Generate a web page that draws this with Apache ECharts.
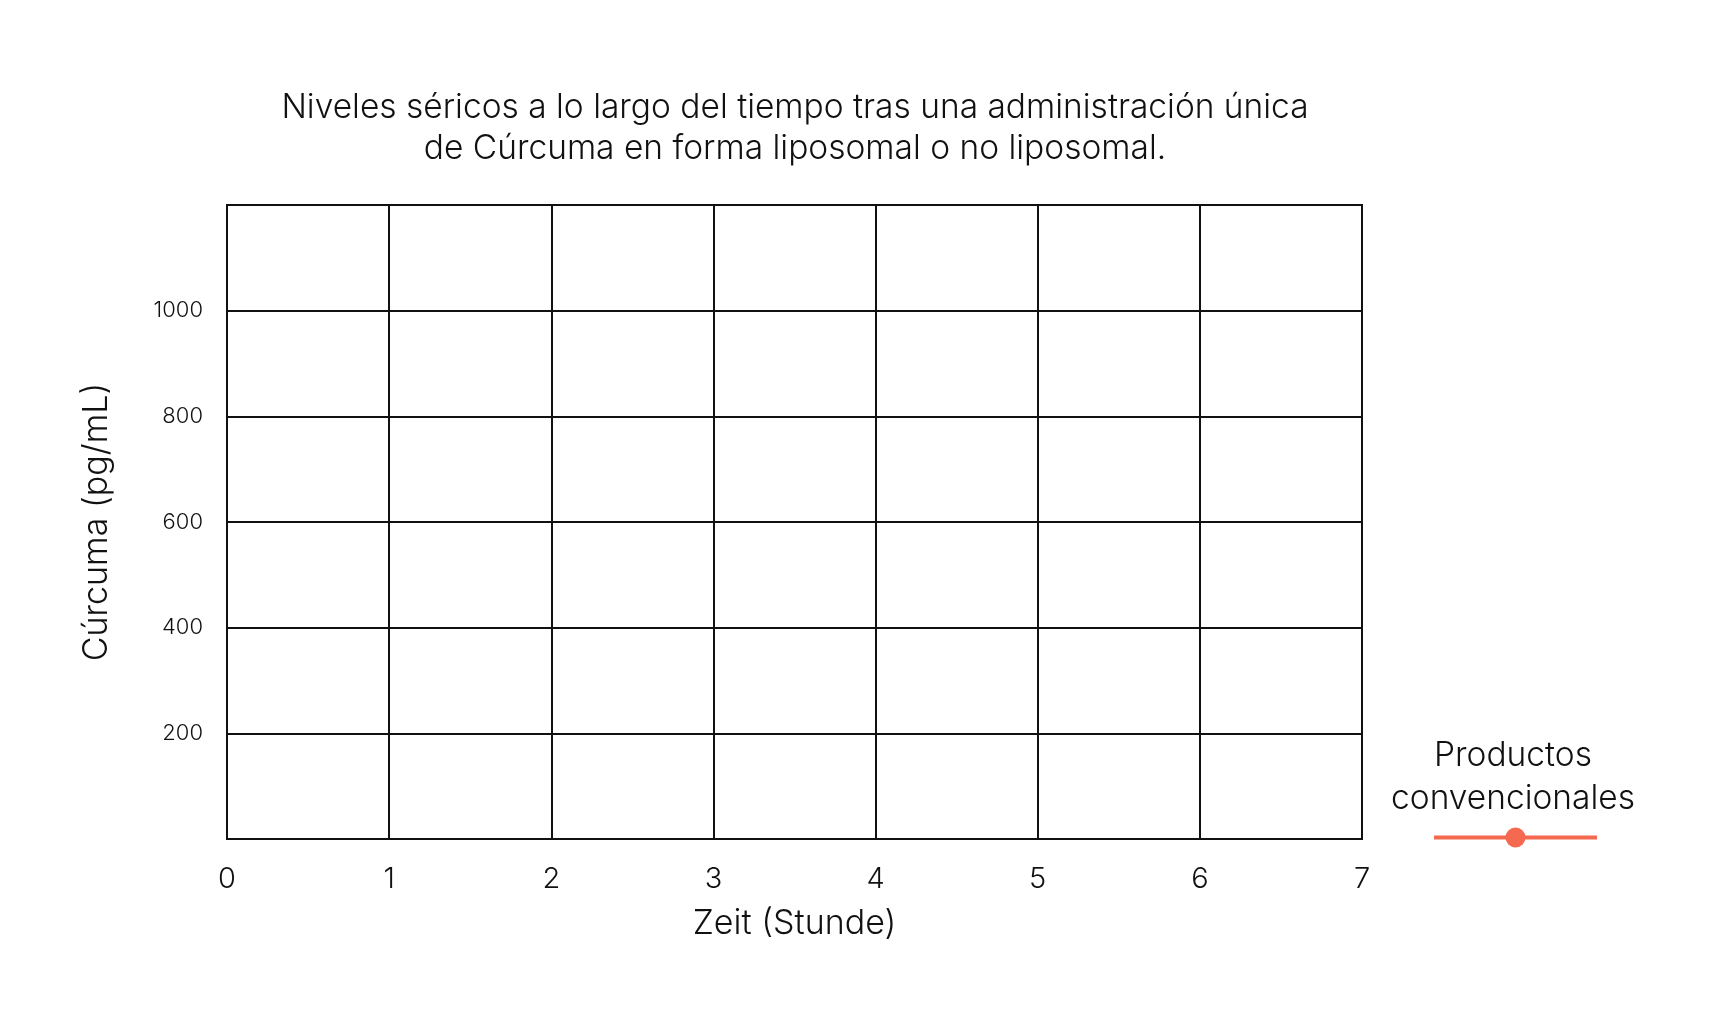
<!DOCTYPE html>
<html>
<head>
<meta charset="utf-8">
<script src="https://cdn.jsdelivr.net/npm/echarts@6/dist/echarts.min.js"></script>
<style>
  html, body { margin: 0; padding: 0; background: #fff; }
  #chart { width: 1719px; height: 1029px; }
</style>
</head>
<body>
<div id="chart"></div>
<script>
const titleLines = ['Niveles séricos a lo largo del tiempo tras una administración única',
  'de Cúrcuma en forma liposomal o no liposomal.']
const seriesName = 'Productos convencionales'
const seriesLabel = ['Productos', 'convencionales']
// no measured points are drawn in the picture, the series is empty
const hoursData = []
const xTicks = [0, 1, 2, 3, 4, 5, 6, 7]
const yTicks = [0, 200, 400, 600, 800, 1000, 1200]

const font = 'Inter'
const ink = '#111'
const orange = '#f4694f'

const chart = echarts.init(document.getElementById('chart'))

chart.setOption({
  backgroundColor: '#fff',
  animation: false,
  title: [
    {
      text: titleLines.join('\n'),
      left: 790,
      top: 82,
      textAlign: 'center',
      textStyle: {
        fontFamily: font,
        fontWeight: 300,
        fontSize: 33.5,
        lineHeight: 41,
        color: ink
      }
    },
    {
      text: seriesLabel.join('\n'),
      left: 1508,
      top: 729,
      textAlign: 'center',
      textStyle: {
        fontFamily: font,
        fontWeight: 300,
        fontSize: 33.5,
        lineHeight: 43,
        color: ink
      }
    }
  ],
  legend: {
    data: [seriesName],
    left: 1427,
    top: 820,
    itemWidth: 163,
    itemHeight: 25,
    formatter: () => '',
    textStyle: { fontSize: 1 },
    lineStyle: { width: 4 }
  },
  grid: {
    left: 227,
    right: 357,
    top: 205,
    bottom: 190,
    show: true,
    borderColor: ink,
    borderWidth: 2,
    containLabel: false
  },
  xAxis: {
    type: 'value',
    min: xTicks[0],
    max: xTicks[xTicks.length - 1],
    interval: 1,
    name: 'Zeit (Stunde)',
    nameLocation: 'middle',
    nameGap: 68,
    nameTextStyle: {
      fontFamily: font,
      fontWeight: 300,
      fontSize: 34,
      color: ink
    },
    axisLine: { show: true, lineStyle: { color: ink, width: 2 } },
    axisTick: { show: false },
    axisLabel: {
      margin: 26,
      fontFamily: font,
      fontWeight: 300,
      fontSize: 29,
      color: ink
    },
    splitLine: { show: true, lineStyle: { color: ink, width: 2 } }
  },
  yAxis: {
    type: 'value',
    min: yTicks[0],
    max: yTicks[yTicks.length - 1],
    interval: 200,
    name: 'Cúrcuma (pg/mL)',
    nameLocation: 'middle',
    nameGap: 113,
    nameTextStyle: {
      fontFamily: font,
      fontWeight: 300,
      fontSize: 34,
      color: ink
    },
    axisLine: { show: true, lineStyle: { color: ink, width: 2 } },
    axisTick: { show: false },
    axisLabel: {
      margin: 24,
      showMinLabel: false,
      showMaxLabel: false,
      formatter: v => String(v),
      fontFamily: font,
      fontWeight: 300,
      fontSize: 22,
      color: ink
    },
    splitLine: { show: true, lineStyle: { color: ink, width: 2 } }
  },
  series: [
    {
      name: seriesName,
      type: 'line',
      data: hoursData,
      symbol: 'circle',
      symbolSize: 20,
      itemStyle: { color: orange },
      lineStyle: { color: orange, width: 4 }
    }
  ]
})
</script>
</body>
</html>
